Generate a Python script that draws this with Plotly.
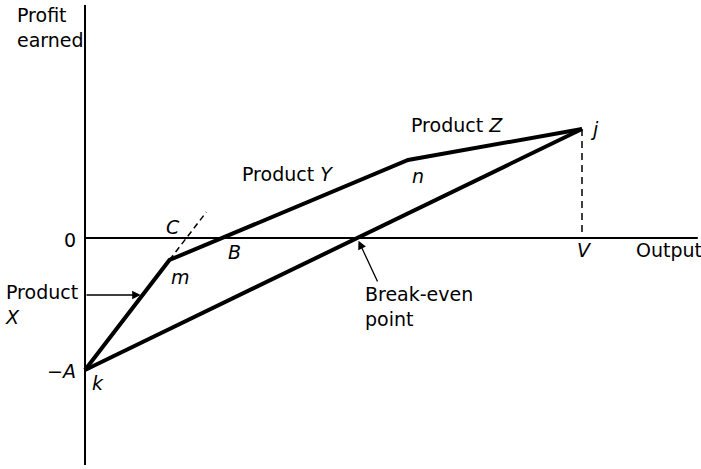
import numpy as np
import plotly.graph_objects as go

# ---- data (output units, profit units) ----
points = ["k", "m", "n", "j"]
output = [0, 17, 65, 100]          # k, m, n, j
profit = [-132, -22, 78, 109]      # -A at k ... j
c_ext_profit = 26                  # dashed extension of product X line up to this profit
axis_output_max = 123.3
axis_profit_top = 233
axis_profit_bottom = -227
product_x_arrow_profit = -57
breakeven_label_tail = (59, -45)

# derived geometry
k, m, n, j = [(output[i], profit[i]) for i in range(4)]
be_x = k[0] + (0 - k[1]) * (j[0] - k[0]) / (j[1] - k[1])          # break-even point
slope_km = (m[1] - k[1]) / (m[0] - k[0])
c_x = m[0] + (c_ext_profit - m[1]) / slope_km
prodx_arrow_x = float(np.interp(product_x_arrow_profit, [k[1], m[1]], [k[0], m[0]]))

W, H = 701, 469
px_per_x = 4.97
x0_px = 85
y0_px = 238
xr = [-x0_px / px_per_x, (W - x0_px) / px_per_x]
yr = [y0_px - H, y0_px]

FONT = "DejaVu Sans"
FS = 19

fig = go.Figure()
# axes
fig.add_trace(go.Scatter(x=[0, 0], y=[axis_profit_top, axis_profit_bottom], mode="lines",
                         line=dict(color="black", width=2), hoverinfo="skip"))
fig.add_trace(go.Scatter(x=[0, axis_output_max], y=[0, 0], mode="lines",
                         line=dict(color="black", width=2), hoverinfo="skip"))
# profit path k-m-n-j
fig.add_trace(go.Scatter(x=output, y=profit, mode="lines",
                         line=dict(color="black", width=4), hoverinfo="skip"))
# straight line k-j
fig.add_trace(go.Scatter(x=[output[0], output[3]], y=[profit[0], profit[3]], mode="lines",
                         line=dict(color="black", width=4), hoverinfo="skip"))
# dashed extension m-C
fig.add_trace(go.Scatter(x=[m[0], c_x], y=[m[1], c_ext_profit], mode="lines",
                         line=dict(color="black", width=1.5, dash="6px,4px"), hoverinfo="skip"))
# dashed vertical j-V
fig.add_trace(go.Scatter(x=[j[0], j[0]], y=[j[1], 0], mode="lines",
                         line=dict(color="black", width=1.5, dash="7px,5px"), hoverinfo="skip"))

ann = []
def paper(px, py):
    return px / W, 1 - py / H

def txt(text, px, py, xanchor="center", yanchor="middle", align="center"):
    xp, yp = paper(px, py)
    ann.append(dict(text=text, x=xp, y=yp, xref="paper", yref="paper", showarrow=False,
                    xanchor=xanchor, yanchor=yanchor, align=align,
                    font=dict(family=FONT, size=FS, color="black")))

txt("Profit<br>earned", 15, 27, xanchor="left", align="left")
txt("0", 78, 240, xanchor="right")
txt("\u2212<i>A</i>", 78, 371, xanchor="right")
txt("Product<br><i>X</i>", 3, 304, xanchor="left", align="left")
txt("Break-even<br>point", 363, 306, xanchor="left", align="left")
txt("Product <i>Y</i>", 240, 174, xanchor="left")
txt("Product <i>Z</i>", 409, 125, xanchor="left")
txt("Output", 634, 250, xanchor="left")
txt("<i>k</i>", 98, 383)
txt("<i>m</i>", 180, 277)
txt("<i>C</i>", 173, 227)
txt("<i>B</i>", 234, 252)
txt("<i>n</i>", 418, 176)
txt("<i>j</i>", 594, 129)
txt("<i>V</i>", 584, 250)

# arrows
ann.append(dict(x=prodx_arrow_x, y=product_x_arrow_profit, ax=0, ay=product_x_arrow_profit,
                xref="x", yref="y", axref="x", ayref="y", text="", showarrow=True,
                arrowhead=2, arrowsize=1.3, arrowwidth=1.3, arrowcolor="black", standoff=2))
ann.append(dict(x=be_x, y=0, ax=breakeven_label_tail[0], ay=breakeven_label_tail[1],
                xref="x", yref="y", axref="x", ayref="y", text="", showarrow=True,
                arrowhead=2, arrowsize=1.3, arrowwidth=1.3, arrowcolor="black", standoff=3))

fig.update_layout(
    width=W, height=H, margin=dict(l=0, r=0, t=0, b=0),
    paper_bgcolor="white", plot_bgcolor="white", showlegend=False,
    xaxis=dict(range=xr, visible=False, fixedrange=True),
    yaxis=dict(range=yr, visible=False, fixedrange=True),
    annotations=ann,
)
fig.write_html("out.html", config={"displayModeBar": False},
               post_script="document.body.style.margin='0';document.body.style.overflow='hidden';")
